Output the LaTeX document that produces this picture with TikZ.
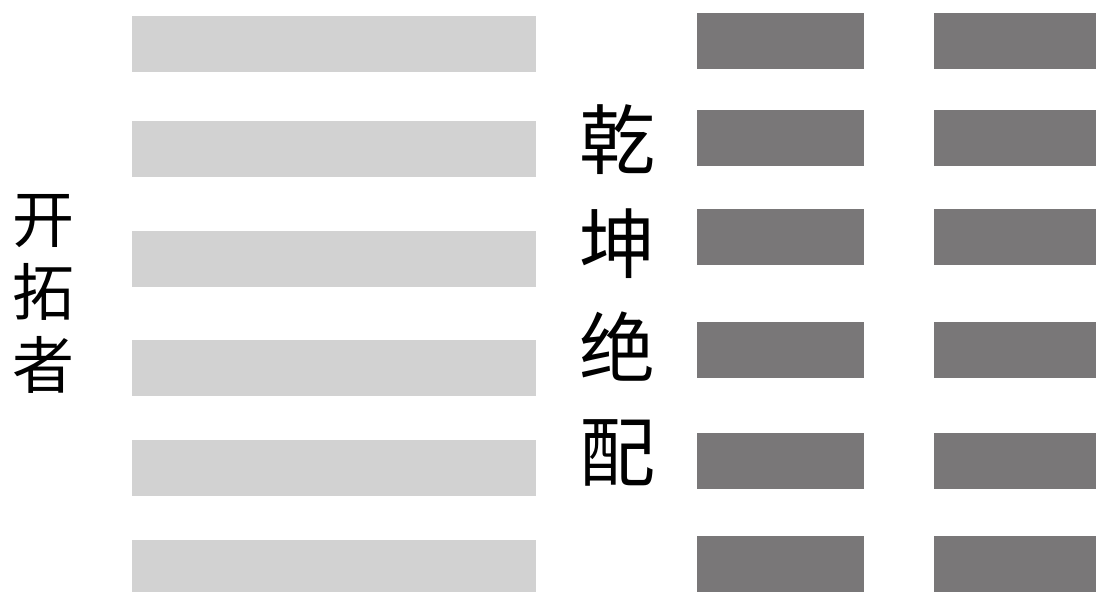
\documentclass[tikz,border=0pt]{standalone}
\usepackage{fontspec}
\newfontfamily\cjk{Noto Sans CJK SC}
\usepackage{tikz}
\definecolor{lightbar}{HTML}{D2D2D2}
\definecolor{darkbar}{HTML}{797778}

\begin{document}
\begin{tikzpicture}[x=0.5pt,y=-0.5pt]
  \tikzset{yangline/.style={fill=lightbar},
    yinline/.style={fill=darkbar},
    label/.style={align=center,inner sep=0pt,text=black}}
  \useasboundingbox (0,0) rectangle (1096,592);
  % left hexagram, unbroken lines
  \foreach \top/\bottom in {16/72,121/177,231/287,340/396,440/496,540/592}
    \fill[yangline] (132,\top) rectangle (536,\bottom);
  % right hexagram, broken lines
  \foreach \top/\bottom in {13/69,110/166,209/265,322/378,433/489,536/592}{
    \fill[yinline] (697,\top) rectangle (864,\bottom);
    \fill[yinline] (934,\top) rectangle (1096,\bottom);
  }
  \node[label,font=\cjk\fontsize{31}{36.5}\selectfont] (pioneer) at (43,294) {开\\拓\\者};
  \node[label,font=\cjk\fontsize{38}{52}\selectfont] (perfectmatch) at (617,295) {乾\\坤\\绝\\配};
\end{tikzpicture}
\end{document}
